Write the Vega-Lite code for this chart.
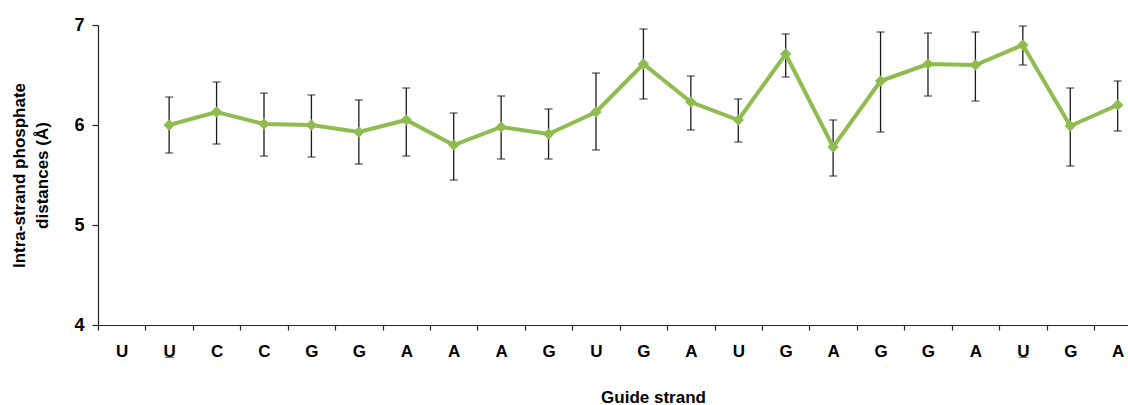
{
  "$schema": "https://vega.github.io/schema/vega-lite/v6.json",
  "autosize": {"type": "none"},
  "width": 1030,
  "height": 300,
  "padding": {"left": 98, "top": 25, "right": 0, "bottom": 80},
  "background": "white",
  "config": {
    "view": {"stroke": null},
    "font": "Liberation Sans"
  },
  "data": {
    "values": [
      {"pos": 2, "base": "U̲", "mean": 6.00, "lo": 5.72, "hi": 6.28},
      {"pos": 3, "base": "C", "mean": 6.13, "lo": 5.81, "hi": 6.43},
      {"pos": 4, "base": "C", "mean": 6.01, "lo": 5.69, "hi": 6.32},
      {"pos": 5, "base": "G", "mean": 6.00, "lo": 5.68, "hi": 6.30},
      {"pos": 6, "base": "G", "mean": 5.93, "lo": 5.61, "hi": 6.25},
      {"pos": 7, "base": "A", "mean": 6.05, "lo": 5.69, "hi": 6.37},
      {"pos": 8, "base": "A", "mean": 5.80, "lo": 5.45, "hi": 6.12},
      {"pos": 9, "base": "A", "mean": 5.98, "lo": 5.66, "hi": 6.29},
      {"pos": 10, "base": "G", "mean": 5.91, "lo": 5.66, "hi": 6.16},
      {"pos": 11, "base": "U", "mean": 6.13, "lo": 5.75, "hi": 6.52},
      {"pos": 12, "base": "G", "mean": 6.61, "lo": 6.26, "hi": 6.96},
      {"pos": 13, "base": "A", "mean": 6.23, "lo": 5.95, "hi": 6.49},
      {"pos": 14, "base": "U", "mean": 6.05, "lo": 5.83, "hi": 6.26},
      {"pos": 15, "base": "G", "mean": 6.71, "lo": 6.48, "hi": 6.91},
      {"pos": 16, "base": "A", "mean": 5.78, "lo": 5.49, "hi": 6.05},
      {"pos": 17, "base": "G", "mean": 6.44, "lo": 5.93, "hi": 6.93},
      {"pos": 18, "base": "G", "mean": 6.61, "lo": 6.29, "hi": 6.92},
      {"pos": 19, "base": "A", "mean": 6.60, "lo": 6.24, "hi": 6.93},
      {"pos": 20, "base": "U̲", "mean": 6.80, "lo": 6.60, "hi": 6.99},
      {"pos": 21, "base": "G", "mean": 5.99, "lo": 5.59, "hi": 6.37},
      {"pos": 22, "base": "A", "mean": 6.20, "lo": 5.94, "hi": 6.44}
    ]
  },
  "encoding": {
    "x": {
      "field": "pos",
      "type": "ordinal",
      "scale": {
        "type": "band",
        "domain": [1,2,3,4,5,6,7,8,9,10,11,12,13,14,15,16,17,18,19,20,21,22],
        "range": [0, 1043.4],
        "paddingInner": 0,
        "paddingOuter": 0
      },
      "axis": {
        "title": "Guide strand",
        "titleFont": "Liberation Sans",
        "titleFontSize": 17,
        "titleFontWeight": "bold",
        "titleColor": "black",
        "titleX": 555,
        "titleY": 77,
        "titleBaseline": "alphabetic",
        "labelExpr": "['U','U̲','C','C','G','G','A','A','A','G','U','G','A','U','G','A','G','G','A','U̲','G','A'][datum.value-1]",
        "labelAngle": 0,
        "labelFont": "Liberation Sans",
        "labelFontSize": 17,
        "labelFontWeight": "bold",
        "labelColor": "black",
        "labelPadding": 13,
        "tickBand": "extent",
        "tickSize": 5,
        "tickColor": "#222",
        "tickWidth": 1.2,
        "domainColor": "#222",
        "domainWidth": 1.2,
        "grid": false
      }
    }
  },
  "layer": [
    {
      "mark": {"type": "rule", "color": "#1a1a1a", "strokeWidth": 1.3},
      "encoding": {
        "y": {"field": "lo", "type": "quantitative"},
        "y2": {"field": "hi"}
      }
    },
    {
      "mark": {"type": "tick", "color": "#1a1a1a", "size": 8, "thickness": 1.3, "orient": "horizontal"},
      "encoding": {
        "y": {"field": "hi", "type": "quantitative"}
      }
    },
    {
      "mark": {"type": "tick", "color": "#1a1a1a", "size": 8, "thickness": 1.3, "orient": "horizontal"},
      "encoding": {
        "y": {"field": "lo", "type": "quantitative"}
      }
    },
    {
      "mark": {"type": "line", "color": "#8fbc4f", "strokeWidth": 4},
      "encoding": {
        "y": {
          "field": "mean",
          "type": "quantitative",
          "scale": {"domain": [4, 7], "nice": false, "zero": false},
          "axis": {
            "title": ["Intra-strand phosphate", "distances (Å)"],
            "titleFont": "Liberation Sans",
            "titleFontSize": 17,
            "titleFontWeight": "bold",
            "titleColor": "black",
            "titleLineHeight": 23,
            "titlePadding": 22,
            "values": [4, 5, 6, 7],
            "format": "d",
            "labelFont": "Liberation Sans",
            "labelFontSize": 18,
            "labelFontWeight": "bold",
            "labelColor": "black",
            "labelPadding": 8,
            "tickSize": 6,
            "tickColor": "#222",
            "tickWidth": 1.2,
            "domainColor": "#222",
            "domainWidth": 1.2,
            "grid": false
          }
        }
      }
    },
    {
      "mark": {"type": "point", "shape": "diamond", "filled": true, "color": "#8fbc4f", "size": 130, "opacity": 1},
      "encoding": {
        "y": {"field": "mean", "type": "quantitative"}
      }
    }
  ]
}
